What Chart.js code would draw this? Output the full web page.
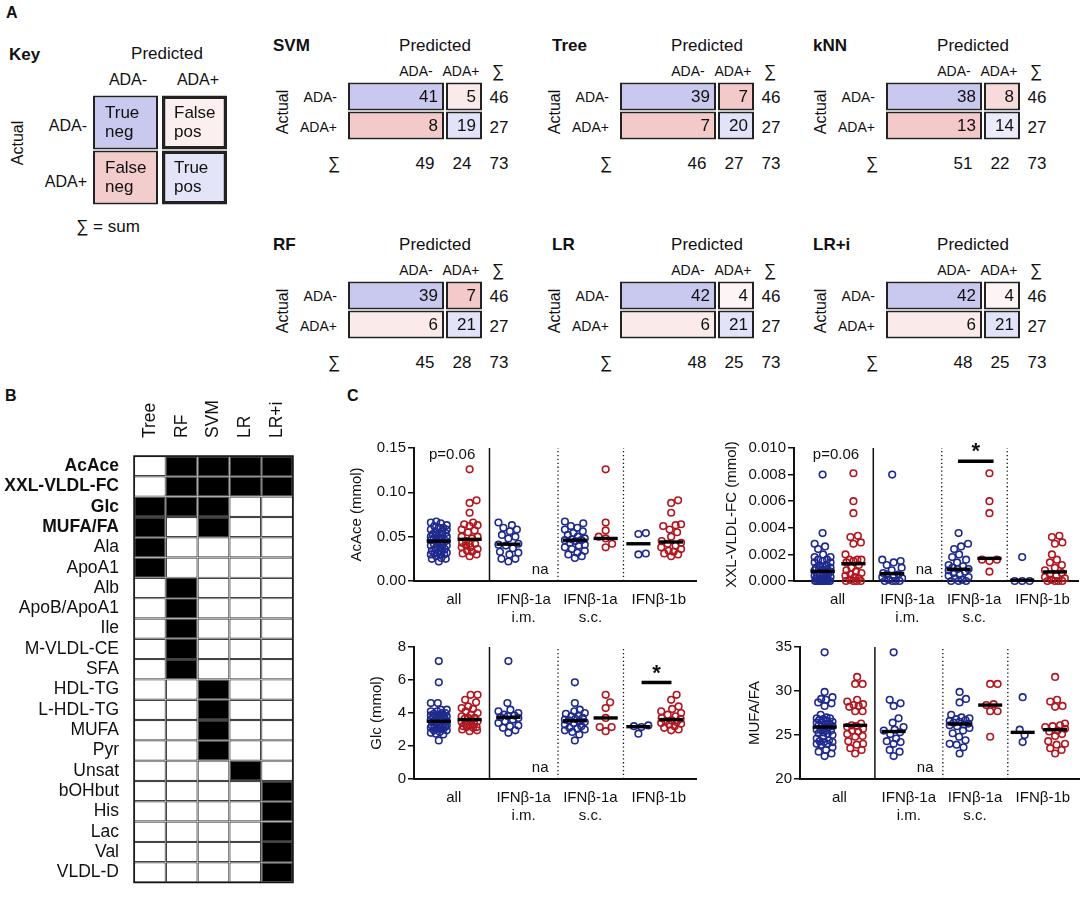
<!DOCTYPE html>
<html><head><meta charset="utf-8">
<script src="https://cdn.jsdelivr.net/npm/chart.js@4.4.0/dist/chart.umd.min.js"></script>
<style>
body{margin:0;background:#fff;width:1084px;height:900px;position:relative;overflow:hidden;font-family:"Liberation Sans",Arial,Helvetica,sans-serif;color:#111}
.t{position:absolute;white-space:nowrap;line-height:1}
canvas{position:absolute}
</style></head><body>
<script>
// ---------------- DATA ----------------
const classLabels = ['ADA-', 'ADA+'];
// confusion matrices: [TN, FP, FN, TP]
const cmSVM = [41, 5, 8, 19];
const cmTree = [39, 7, 7, 20];
const cmKNN = [38, 8, 13, 14];
const cmRF = [39, 7, 6, 21];
const cmLR = [42, 4, 6, 21];
const cmLRi = [42, 4, 6, 21];
const keyText = [['True', 'neg'], ['False', 'pos'], ['False', 'neg'], ['True', 'pos']];

// panel B
const heatModels = ['Tree', 'RF', 'SVM', 'LR', 'LR+i'];
const heatFeatures = ['AcAce', 'XXL-VLDL-FC', 'Glc', 'MUFA/FA', 'Ala', 'ApoA1', 'Alb', 'ApoB/ApoA1', 'Ile', 'M-VLDL-CE', 'SFA', 'HDL-TG', 'L-HDL-TG', 'MUFA', 'Pyr', 'Unsat', 'bOHbut', 'His', 'Lac', 'Val', 'VLDL-D'];
const selTree = [0,0,1,1,1,1,0,0,0,0,0,0,0,0,0,0,0,0,0,0,0];
const selRF   = [1,1,1,0,0,0,1,1,1,1,1,0,0,0,0,0,0,0,0,0,0];
const selSVM  = [1,1,1,1,0,0,0,0,0,0,0,1,1,1,1,0,0,0,0,0,0];
const selLR   = [1,1,0,0,0,0,0,0,0,0,0,0,0,0,0,1,0,0,0,0,0];
const selLRi  = [1,1,0,0,0,0,0,0,0,0,0,0,0,0,0,0,1,1,1,1,1];

// panel C
const xCatLabels = [['all'], ['IFN\u03b2-1a', 'i.m.'], ['IFN\u03b2-1a', 's.c.'], ['IFN\u03b2-1b']];
const acTicks = [0, 0.05, 0.10, 0.15];
const xxTicks = [0, 0.002, 0.004, 0.006, 0.008, 0.010];
const glTicks = [0, 2, 4, 6, 8];
const muTicks = [20, 25, 30, 35];

const acIMneg = [0.066,0.063,0.060,0.058,0.056,0.052,0.050,0.048,0.042,0.041,0.040,0.037,0.033,0.032,0.030,0.025,0.025,0.022];
const acSCneg = [0.067,0.065,0.062,0.060,0.058,0.056,0.054,0.052,0.050,0.048,0.047,0.046,0.046,0.045,0.043,0.041,0.040,0.038,0.036,0.034,0.032,0.030,0.028,0.026];
const acSCpos = [0.126,0.066,0.057,0.050,0.048,0.042,0.038];
const ac1Bneg = [0.054,0.053,0.031,0.030];
const ac1Bpos = [0.091,0.088,0.077,0.064,0.063,0.062,0.058,0.055,0.050,0.045,0.043,0.042,0.040,0.038,0.036,0.034,0.033,0.031,0.030,0.028];
const acMed = [0.045, 0.047, 0.0415, 0.046, 0.048, 0.042, 0.044];

const xxIMneg = [0.0080,0.0016,0.0015,0.0014,0.0012,0.0010,0.0008,0.0006,0.0005,0.0005,0.0004,0.0003,0.0002,0.0001,0,0,0,0];
const xxSCneg = [0.0036,0.0028,0.0026,0.0024,0.0020,0.0018,0.0016,0.0014,0.0012,0.0011,0.0010,0.0009,0.0009,0.0008,0.0007,0.0006,0.0005,0.0004,0.0003,0.0002,0.0001,0,0,0];
const xxSCpos = [0.0081,0.0060,0.0051,0.0016,0.0016,0.0015,0.0007];
const xx1Bneg = [0.0018,0,0,0];
const xx1Bpos = [0.0034,0.0033,0.0029,0.0028,0.0020,0.0016,0.0014,0.0012,0.0010,0.0008,0.0006,0.0005,0.0004,0.0003,0.0002,0.0001,0,0,0,0];
const xxMed = [0.00073, 0.0013, 0.00055, 0.00088, 0.0017, 0.00005, 0.00068];

const glIMneg = [7.15,4.6,4.2,4.1,4.0,3.9,3.85,3.8,3.75,3.7,3.6,3.5,3.4,3.25,3.2,3.1,2.95,2.8];
const glSCneg = [5.86,4.6,4.2,4.1,4.0,3.95,3.85,3.8,3.7,3.65,3.6,3.55,3.5,3.45,3.4,3.3,3.2,3.1,3.05,3.0,2.95,2.85,2.7,2.34];
const glSCpos = [5.1,4.65,4.3,3.7,3.15,3.15,2.9];
const gl1Bneg = [3.25,3.2,3.15,2.75];
const gl1Bpos = [5.1,4.8,4.4,4.25,4.1,4.0,3.9,3.8,3.7,3.65,3.55,3.5,3.45,3.4,3.35,3.3,3.2,3.1,3.0,2.95];
const glMed = [3.5, 3.6, 3.74, 3.53, 3.7, 3.17, 3.6];

const muIMneg = [34.4,29.0,28.6,28.3,26.9,26.4,25.9,25.6,25.5,25.3,25.1,24.6,24.3,24.2,24.0,23.3,23.1,22.6];
const muSCneg = [29.9,29.1,28.7,27.3,27.0,26.9,26.8,26.7,26.6,26.5,26.4,26.3,26.2,26.1,26.0,25.8,25.5,25.2,24.8,24.4,24.0,23.9,23.6,22.9];
const muSCpos = [30.8,30.8,28.5,28.4,27.7,27.7,24.8];
const mu1Bneg = [29.3,25.6,25.0,24.2];
const mu1Bpos = [31.6,29.0,28.8,28.3,28.2,26.3,26.1,26.0,25.9,25.7,25.5,25.4,25.1,24.9,24.3,24.0,23.9,23.5,23.3,22.9];
const muMed = [25.9, 26.1, 25.4, 26.25, 28.4, 25.3, 25.6];

// ---------------- STYLE / LAYOUT ----------------
const FONT = '"Liberation Sans", Arial, Helvetica, sans-serif';
Chart.defaults.font.family = FONT;
Chart.defaults.color = '#111';
Chart.defaults.animation = false;
Chart.defaults.responsive = false;
Chart.defaults.plugins.legend.display = false;
Chart.defaults.plugins.tooltip.enabled = false;

const BLUE = '#1f2a8e', RED = '#b3161f';
const toneSVM = ['#c9c9f0', '#fbeaea', '#f3c9c9', '#e2e2f8'];
const toneTree = ['#c9c9f0', '#f3c9c9', '#f3c9c9', '#e2e2f8'];
const toneKNN = ['#c9c9f0', '#f7dada', '#f3c9c9', '#ebebfa'];
const toneRF = ['#c9c9f0', '#f3c9c9', '#fbeaea', '#e2e2f8'];
const toneLR = ['#c9c9f0', '#fdf5f5', '#fbeaea', '#e2e2f8'];
const toneKey = ['#c9c9f0', '#fcefef', '#f3cccc', '#e4e4f8'];

function T(s, x, y, o = {}) {
  const d = document.createElement('div');
  d.className = 't'; d.textContent = s;
  d.style.left = x + 'px'; d.style.top = y + 'px';
  d.style.fontSize = (o.size || 17) + 'px';
  if (o.bold) d.style.fontWeight = 'bold';
  const ax = o.align === 'right' ? '-100%' : o.align === 'left' ? '0' : '-50%';
  d.style.transform = `translate(${ax},-50%)` + (o.rot ? ' rotate(-90deg)' : '');
  document.body.appendChild(d);
}
function makeCanvas(l, t, w, h) {
  const c = document.createElement('canvas');
  c.width = w; c.height = h;
  c.style.left = l + 'px'; c.style.top = t + 'px';
  c.style.width = w + 'px'; c.style.height = h + 'px';
  document.body.appendChild(c);
  return c;
}

// ---------- confusion-matrix cell charts ----------
function matrixChart(left, top, colW, gap, rowH, rowGap, tones, bws, drawText) {
  const W = colW[0] + gap + colW[1], H = 2 * rowH + 2 * rowGap;
  const pad = 3;
  const cv = makeCanvas(left - pad, top - pad, W + 2 * pad, H + 2 * pad);
  const span = c => c === 0 ? [0, colW[0]] : [colW[0] + gap, W];
  new Chart(cv, {
    type: 'bar',
    data: { labels: classLabels, datasets: [0, 1].map(c => ({
      data: [span(c), span(c)],
      backgroundColor: [tones[c], tones[2 + c]],
      borderColor: '#222', borderWidth: [bws[c], bws[2 + c]],
      borderSkipped: false, barThickness: rowH, grouped: false, inflateAmount: 0
    })) },
    options: {
      indexAxis: 'y', layout: { padding: pad },
      scales: { x: { type: 'linear', min: 0, max: W, display: false }, y: { display: false } }
    },
    plugins: [{ id: 'celltext', afterDatasetsDraw(chart) {
      const ctx = chart.ctx;
      chart.data.datasets.forEach((ds, c) => {
        chart.getDatasetMeta(c).data.forEach((bar, r) => drawText(ctx, bar, r * 2 + c));
      });
    } }]
  });
}

function confusion(cm, name, tones, L, Ttop, titleOff) {
  const cw = [96, 36];
  matrixChart(L, Ttop - 1, cw, 2, 28, 1, tones, [2, 2, 2, 2], (ctx, bar, i) => {
    ctx.save(); ctx.font = '17px ' + FONT; ctx.fillStyle = '#111';
    ctx.textAlign = 'right'; ctx.textBaseline = 'middle';
    ctx.fillText(String(cm[i]), bar.x - 6, bar.y + 1);
    ctx.restore();
  });
  const rowSum = [cm[0] + cm[1], cm[2] + cm[3]];
  const colSum = [cm[0] + cm[2], cm[1] + cm[3]];
  T(name, L + titleOff, Ttop - 38, { bold: true, align: 'left' });
  T('Predicted', L + 87, Ttop - 38);
  T(classLabels[0], L + 68, Ttop - 12, { size: 14 });
  T(classLabels[1], L + 113, Ttop - 12, { size: 14 });
  T('\u2211', L + 150, Ttop - 12);
  T(classLabels[0], L - 11, Ttop + 14, { size: 14, align: 'right' });
  T(classLabels[1], L - 11, Ttop + 44, { size: 14, align: 'right' });
  T(String(rowSum[0]), L + 151, Ttop + 14);
  T(String(rowSum[1]), L + 151, Ttop + 44);
  T('Actual', L - 65, Ttop + 29, { size: 16, rot: true });
  T('\u2211', L - 14, Ttop + 80);
  T(String(colSum[0]), L + 77, Ttop + 80);
  T(String(colSum[1]), L + 114, Ttop + 80);
  T(String(rowSum[0] + rowSum[1]), L + 151, Ttop + 80);
}

// Panel A
T('A', 6, 13, { bold: true, size: 16, align: 'left' });
T('Key', 9, 54, { bold: true, align: 'left' });
T('Predicted', 167, 53);
T(classLabels[0], 128, 80, { size: 16 });
T(classLabels[1], 198, 80, { size: 16 });
T(classLabels[0], 87, 126, { size: 16, align: 'right' });
T(classLabels[1], 87, 182, { size: 16, align: 'right' });
T('Actual', 18, 143, { size: 16, rot: true });
T('\u2211 = sum', 108, 226);
matrixChart(93, 95, [65, 65], 4, 54, 1, toneKey, [2, 3.5, 2, 3.5], (ctx, bar, i) => {
  ctx.save(); ctx.font = '17px ' + FONT; ctx.fillStyle = '#111';
  ctx.textAlign = 'left'; ctx.textBaseline = 'middle';
  ctx.fillText(keyText[i][0], bar.base + 12, bar.y - 9);
  ctx.fillText(keyText[i][1], bar.base + 12, bar.y + 10);
  ctx.restore();
});

const matL = [348, 620, 886], matT = [83, 282], titleOffs = [-75, -68, -73];
confusion(cmSVM, 'SVM', toneSVM, matL[0], matT[0], titleOffs[0]);
confusion(cmTree, 'Tree', toneTree, matL[1], matT[0], titleOffs[1]);
confusion(cmKNN, 'kNN', toneKNN, matL[2], matT[0], titleOffs[2]);
confusion(cmRF, 'RF', toneRF, matL[0], matT[1], titleOffs[0]);
confusion(cmLR, 'LR', toneLR, matL[1], matT[1], titleOffs[1]);
confusion(cmLRi, 'LR+i', toneLR, matL[2], matT[1], titleOffs[2]);

// Panel B
T('B', 5, 396, { bold: true, size: 16, align: 'left' });
(function () {
  const sels = [selTree, selRF, selSVM, selLR, selLRi];
  const cv = makeCanvas(0, 390, 300, 510);
  new Chart(cv, {
    type: 'bar',
    data: { labels: heatFeatures, datasets: sels.map((s, m) => ({
      label: heatModels[m],
      data: s.map(() => 1),
      backgroundColor: s.map(v => v ? '#000' : '#fff'),
      borderColor: '#444', borderWidth: 1.2, borderSkipped: false, inflateAmount: 0,
      barPercentage: 1, categoryPercentage: 1
    })) },
    options: {
      indexAxis: 'y',
      layout: { padding: { top: 66, right: 7, bottom: 2, left: 0 } },
      scales: {
        x: { type: 'linear', stacked: true, min: 0, max: 5, display: false },
        y: { stacked: true, grid: { display: false }, border: { display: false },
          afterFit: s => { s.width = 134; },
          ticks: { autoSkip: false, padding: 7, color: '#111',
            font: c => ({ size: 17.5, family: FONT, weight: c.index < 4 ? 'bold' : 'normal' }) } }
      }
    },
    plugins: [{ id: 'heatDeco', afterDraw(chart) {
      const { ctx, chartArea: a, scales: { x } } = chart;
      ctx.save();
      ctx.strokeStyle = '#111'; ctx.lineWidth = 1.5;
      ctx.strokeRect(a.left, a.top, a.right - a.left, a.bottom - a.top);
      ctx.font = '17.5px ' + FONT; ctx.fillStyle = '#111';
      ctx.textAlign = 'left'; ctx.textBaseline = 'middle';
      heatModels.forEach((m, i) => {
        ctx.save();
        ctx.translate(x.getPixelForValue(i + 0.5), a.top - 18);
        ctx.rotate(-Math.PI / 2);
        ctx.fillText(m, 0, 0);
        ctx.restore();
      });
      ctx.restore();
    } }]
  });
})();

// Panel C
T('C', 347, 396, { bold: true, size: 16, align: 'left' });
const groupX = [0.78, 1.75, 2.97, 5.06, 6.03, 7.06, 8.09];
const groupCol = [BLUE, RED, BLUE, BLUE, RED, BLUE, RED];
const sepX = [2.375, 4.53, 6.59];
const xTickPos = [1.25, 3.45, 5.55, 7.7];
const R = 3.3;

function swarm(vals, pxY, maxOff) {
  const order = vals.map((v, i) => i).sort((a, b) => vals[a] - vals[b]);
  const placed = [], off = new Array(vals.length).fill(0);
  const cands = [0];
  for (let d = 0.5; d <= maxOff; d += 0.5) cands.push(d, -d);
  const minD = 2 * (R + 0.8) * 0.88;
  for (const i of order) {
    const py = vals[i] * pxY;
    let best = 0, bestScore = -1;
    for (const dx of cands) {
      let md = Infinity;
      for (const p of placed) { const d = Math.hypot(p.x - dx, p.y - py); if (d < md) md = d; }
      if (md >= minD) { best = dx; break; }
      if (md > bestScore) { bestScore = md; best = dx; }
    }
    placed.push({ x: best, y: py }); off[i] = best;
  }
  return off;
}

function swarmChart(o) {
  const padTop = 20, xAxisH = 52;
  const padR = Math.min(3, 1084 - o.areaRight);
  const cTop = o.areaTop - padTop;
  const cv = makeCanvas(o.left, cTop, o.areaRight + padR - o.left, o.areaBottom - cTop + xAxisH);
  const yMin = o.ticks[0], yMax = o.ticks[o.ticks.length - 1];
  const pxY = (o.areaBottom - o.areaTop) / (yMax - yMin);
  const pxX = (o.areaRight - o.areaLeft) / (o.xMax - o.xMin);
  const ds = [];
  o.groups.forEach((vals, g) => {
    const off = swarm(vals, pxY, g < 2 ? 8 : 10);
    ds.push({ data: vals.map((v, i) => ({ x: groupX[g] + off[i] / pxX, y: v })),
      borderColor: groupCol[g], backgroundColor: 'rgba(255,255,255,0)',
      pointRadius: R, pointHoverRadius: R, pointBorderWidth: 1.6, clip: false, order: 1 });
    ds.push({ data: [{ x: groupX[g] - 0.38, y: o.med[g] }, { x: groupX[g] + 0.38, y: o.med[g] }],
      showLine: true, borderColor: '#000', borderWidth: 3.4, pointRadius: 0, clip: false, order: 0 });
  });
  sepX.forEach((s, k) => ds.push({ data: [{ x: s, y: yMin }, { x: s, y: yMax }], showLine: true,
    borderColor: '#111', borderWidth: k === 0 ? 1.5 : 1.3, borderDash: k === 0 ? [] : [1.3, 2.6],
    pointRadius: 0, clip: false, order: 2 }));
  if (o.sig) ds.push({ data: [{ x: o.sig.x - o.sig.hw, y: o.sig.y }, { x: o.sig.x + o.sig.hw, y: o.sig.y }],
    showLine: true, borderColor: '#000', borderWidth: 3.5, pointRadius: 0, clip: false, order: 0 });
  new Chart(cv, {
    type: 'scatter',
    data: { datasets: ds },
    options: {
      layout: { padding: { top: padTop, right: padR, left: 0, bottom: 0 } },
      scales: {
        x: { type: 'linear', min: o.xMin, max: o.xMax,
          afterBuildTicks: s => { s.ticks = xTickPos.map(v => ({ value: v })); },
          afterFit: s => { s.height = xAxisH; },
          grid: { display: false, drawTicks: false }, border: { color: '#111', width: 2 },
          ticks: { autoSkip: false, maxRotation: 0, padding: 10, color: '#111', font: { size: 15 },
            callback: (v, i) => xCatLabels[i] } },
        y: { type: 'linear', min: yMin, max: yMax,
          afterBuildTicks: s => { s.ticks = o.ticks.map(v => ({ value: v })); },
          afterFit: s => { s.width = o.areaLeft - o.left; },
          grid: { display: true, drawOnChartArea: false, drawTicks: true, tickLength: 6, color: '#111', lineWidth: 1.5 },
          border: { color: '#111', width: 2 },
          title: { display: true, text: o.title, font: { size: 15 }, color: '#111', padding: { top: 0, bottom: 0 } },
          ticks: { padding: 2, color: '#111', font: { size: 15 }, callback: v => o.fmt(v) } }
      }
    },
    plugins: [{ id: 'ann', afterDraw(chart) {
      const { ctx, scales: { x, y } } = chart;
      o.texts.forEach(t => {
        ctx.save(); ctx.font = t.font || ('15px ' + FONT); ctx.fillStyle = '#111';
        ctx.textAlign = 'center'; ctx.textBaseline = 'middle';
        ctx.fillText(t.s, x.getPixelForValue(t.x), y.getPixelForValue(t.y));
        ctx.restore();
      });
    } }]
  });
}

const all = (a, b, c) => a.concat(b, c);
swarmChart({ left: 348, areaLeft: 414, areaRight: 698, areaTop: 448, areaBottom: 581, xMin: 0, xMax: 8.875,
  ticks: acTicks, fmt: v => v.toFixed(2), title: 'AcAce (mmol)', med: acMed,
  groups: [all(acIMneg, acSCneg, ac1Bneg), acSCpos.concat(ac1Bpos), acIMneg, acSCneg, acSCpos, ac1Bneg, ac1Bpos],
  texts: [{ s: 'p=0.06', x: 1.2, y: 0.142 }, { s: 'na', x: 3.97, y: 0.0124 }] });
swarmChart({ left: 723, areaLeft: 794, areaRight: 1080, areaTop: 448, areaBottom: 581, xMin: -0.12, xMax: 8.82,
  ticks: xxTicks, fmt: v => v.toFixed(3), title: 'XXL-VLDL-FC (mmol)', med: xxMed,
  groups: [all(xxIMneg, xxSCneg, xx1Bneg), xxSCpos.concat(xx1Bpos), xxIMneg, xxSCneg, xxSCpos, xx1Bneg, xx1Bpos],
  sig: { x: 5.6, hw: 0.56, y: 0.0090 },
  texts: [{ s: 'p=0.06', x: 1.2, y: 0.0095 }, { s: 'na', x: 3.97, y: 0.00083 },
    { s: '*', x: 5.6, y: 0.0097, font: 'bold 22px ' + FONT }] });
swarmChart({ left: 368, areaLeft: 414, areaRight: 698, areaTop: 647, areaBottom: 779, xMin: 0, xMax: 8.875,
  ticks: glTicks, fmt: v => String(v), title: 'Glc (mmol)', med: glMed,
  groups: [all(glIMneg, glSCneg, gl1Bneg), glSCpos.concat(gl1Bpos), glIMneg, glSCneg, glSCpos, gl1Bneg, gl1Bpos],
  sig: { x: 7.63, hw: 0.47, y: 5.85 },
  texts: [{ s: 'na', x: 3.97, y: 0.67 }, { s: '*', x: 7.63, y: 6.36, font: 'bold 22px ' + FONT }] });
swarmChart({ left: 746, areaLeft: 800, areaRight: 1083, areaTop: 647, areaBottom: 779, xMin: 0, xMax: 8.85,
  ticks: muTicks, fmt: v => String(v), title: 'MUFA/FA', med: muMed,
  groups: [all(muIMneg, muSCneg, mu1Bneg), muSCpos.concat(mu1Bpos), muIMneg, muSCneg, muSCpos, mu1Bneg, mu1Bpos],
  texts: [{ s: 'na', x: 3.97, y: 21.25 }] });
</script>
</body></html>
